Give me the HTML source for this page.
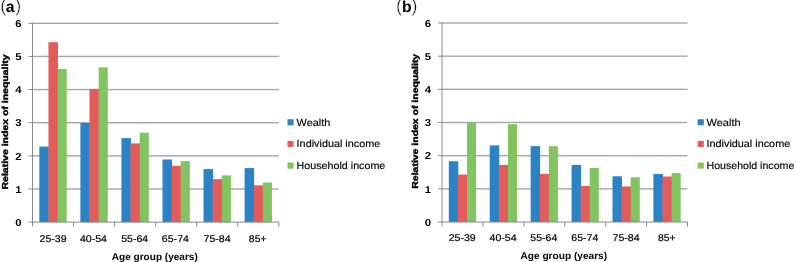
<!DOCTYPE html>
<html lang="en"><head><meta charset="utf-8"><title>Relative index of inequality by age group</title>
<style>
html,body{margin:0;padding:0;background:#fff;}
body{width:796px;height:262px;overflow:hidden;}
svg{display:block;font-family:"Liberation Sans", sans-serif;fill:#000;text-rendering:geometricPrecision;}
</style></head><body>
<svg width="796" height="262" viewBox="0 0 796 262">
<rect x="0" y="0" width="796" height="262" fill="#ffffff"/>
<g id="panel-a">
<rect x="32.50" y="188.27" width="246.30" height="1.4" fill="#a4a6aa"/>
<rect x="32.50" y="155.13" width="246.30" height="1.4" fill="#a4a6aa"/>
<rect x="32.50" y="122.00" width="246.30" height="1.4" fill="#a4a6aa"/>
<rect x="32.50" y="88.87" width="246.30" height="1.4" fill="#a4a6aa"/>
<rect x="32.50" y="55.73" width="246.30" height="1.4" fill="#a4a6aa"/>
<rect x="32.50" y="22.60" width="246.30" height="1.4" fill="#a4a6aa"/>
<rect x="39.34" y="146.56" width="9.52" height="75.54" fill="#2b83c6"/>
<rect x="48.46" y="42.19" width="9.52" height="179.91" fill="#e45b5b"/>
<rect x="57.59" y="69.02" width="9.12" height="153.08" fill="#82c45f"/>
<rect x="80.39" y="123.03" width="9.52" height="99.07" fill="#2b83c6"/>
<rect x="89.51" y="88.90" width="9.52" height="133.20" fill="#e45b5b"/>
<rect x="98.64" y="67.37" width="9.12" height="154.73" fill="#82c45f"/>
<rect x="121.44" y="138.11" width="9.52" height="83.99" fill="#2b83c6"/>
<rect x="130.56" y="143.41" width="9.52" height="78.69" fill="#e45b5b"/>
<rect x="139.69" y="132.64" width="9.12" height="89.46" fill="#82c45f"/>
<rect x="162.49" y="159.48" width="9.52" height="62.62" fill="#2b83c6"/>
<rect x="171.61" y="165.77" width="9.52" height="56.33" fill="#e45b5b"/>
<rect x="180.74" y="161.13" width="9.12" height="60.97" fill="#82c45f"/>
<rect x="203.54" y="169.09" width="9.52" height="53.01" fill="#2b83c6"/>
<rect x="212.66" y="179.19" width="9.52" height="42.91" fill="#e45b5b"/>
<rect x="221.79" y="175.38" width="9.12" height="46.72" fill="#82c45f"/>
<rect x="244.59" y="168.09" width="9.52" height="54.01" fill="#2b83c6"/>
<rect x="253.71" y="185.32" width="9.52" height="36.78" fill="#e45b5b"/>
<rect x="262.84" y="182.51" width="9.12" height="39.59" fill="#82c45f"/>
<rect x="32.00" y="22.80" width="1" height="203.50" fill="#868a90"/>
<rect x="28.50" y="221.60" width="250.30" height="1" fill="#868a90"/>
<rect x="28.50" y="188.47" width="4.0" height="1" fill="#868a90"/>
<rect x="28.50" y="155.33" width="4.0" height="1" fill="#868a90"/>
<rect x="28.50" y="122.20" width="4.0" height="1" fill="#868a90"/>
<rect x="28.50" y="89.07" width="4.0" height="1" fill="#868a90"/>
<rect x="28.50" y="55.93" width="4.0" height="1" fill="#868a90"/>
<rect x="28.50" y="22.80" width="4.0" height="1" fill="#868a90"/>
<rect x="73.05" y="222.10" width="1" height="4.7" fill="#868a90"/>
<rect x="114.10" y="222.10" width="1" height="4.7" fill="#868a90"/>
<rect x="155.15" y="222.10" width="1" height="4.7" fill="#868a90"/>
<rect x="196.20" y="222.10" width="1" height="4.7" fill="#868a90"/>
<rect x="237.25" y="222.10" width="1" height="4.7" fill="#868a90"/>
<rect x="278.30" y="222.10" width="1" height="4.7" fill="#868a90"/>
<text x="21.60" y="225.80" text-anchor="end" font-size="10.0" font-weight="bold" textLength="6.3" lengthAdjust="spacingAndGlyphs">0</text>
<text x="21.60" y="192.67" text-anchor="end" font-size="10.0" font-weight="bold" textLength="6.3" lengthAdjust="spacingAndGlyphs">1</text>
<text x="21.60" y="159.53" text-anchor="end" font-size="10.0" font-weight="bold" textLength="6.3" lengthAdjust="spacingAndGlyphs">2</text>
<text x="21.60" y="126.40" text-anchor="end" font-size="10.0" font-weight="bold" textLength="6.3" lengthAdjust="spacingAndGlyphs">3</text>
<text x="21.60" y="93.27" text-anchor="end" font-size="10.0" font-weight="bold" textLength="6.3" lengthAdjust="spacingAndGlyphs">4</text>
<text x="21.60" y="60.13" text-anchor="end" font-size="10.0" font-weight="bold" textLength="6.3" lengthAdjust="spacingAndGlyphs">5</text>
<text x="21.60" y="27.00" text-anchor="end" font-size="10.0" font-weight="bold" textLength="6.3" lengthAdjust="spacingAndGlyphs">6</text>
<text x="39.53" y="241.65" font-size="9.8" stroke="#000" stroke-width="0.2" textLength="27.0" lengthAdjust="spacingAndGlyphs">25-39</text>
<text x="79.98" y="241.65" font-size="9.8" stroke="#000" stroke-width="0.2" textLength="27.0" lengthAdjust="spacingAndGlyphs">40-54</text>
<text x="121.22" y="241.65" font-size="9.8" stroke="#000" stroke-width="0.2" textLength="27.0" lengthAdjust="spacingAndGlyphs">55-64</text>
<text x="161.88" y="241.65" font-size="9.8" stroke="#000" stroke-width="0.2" textLength="27.0" lengthAdjust="spacingAndGlyphs">65-74</text>
<text x="203.53" y="241.65" font-size="9.8" stroke="#000" stroke-width="0.2" textLength="27.0" lengthAdjust="spacingAndGlyphs">75-84</text>
<text x="248.88" y="241.65" font-size="9.8" stroke="#000" stroke-width="0.2" textLength="17.6" lengthAdjust="spacingAndGlyphs">85+</text>
<text x="111.80" y="259.70" font-size="9.9" font-weight="bold" textLength="86" lengthAdjust="spacingAndGlyphs">Age group (years)</text>
<text transform="translate(8.10,189.50) rotate(-90)" font-size="8.6" font-weight="bold" stroke="#000" stroke-width="0.4" textLength="135.2" lengthAdjust="spacingAndGlyphs">Relative index of inequality</text>
<rect x="287.50" y="119.25" width="6.1" height="6.1" fill="#2b83c6"/>
<text x="296.60" y="125.80" font-size="10.3" stroke="#000" stroke-width="0.15" textLength="33.8" lengthAdjust="spacingAndGlyphs">Wealth</text>
<rect x="287.50" y="140.90" width="6.1" height="6.1" fill="#e45b5b"/>
<text x="296.60" y="147.45" font-size="10.3" stroke="#000" stroke-width="0.15" textLength="83.7" lengthAdjust="spacingAndGlyphs">Individual income</text>
<rect x="287.50" y="162.55" width="6.1" height="6.1" fill="#82c45f"/>
<text x="296.60" y="169.10" font-size="10.3" stroke="#000" stroke-width="0.15" textLength="88.7" lengthAdjust="spacingAndGlyphs">Household income</text>
<text x="0.20" y="12.4" font-size="18.6" stroke="#fff" stroke-width="0.45">(</text>
<text x="5.70" y="12.1" font-size="15.8" font-weight="bold">a</text>
<text x="14.90" y="12.4" font-size="18.6" stroke="#fff" stroke-width="0.45">)</text>
</g>
<g id="panel-b">
<rect x="442.00" y="188.13" width="245.50" height="1.4" fill="#a4a6aa"/>
<rect x="442.00" y="154.97" width="245.50" height="1.4" fill="#a4a6aa"/>
<rect x="442.00" y="121.80" width="245.50" height="1.4" fill="#a4a6aa"/>
<rect x="442.00" y="88.63" width="245.50" height="1.4" fill="#a4a6aa"/>
<rect x="442.00" y="55.47" width="245.50" height="1.4" fill="#a4a6aa"/>
<rect x="442.00" y="22.30" width="245.50" height="1.4" fill="#a4a6aa"/>
<rect x="448.82" y="161.31" width="9.49" height="60.70" fill="#2b83c6"/>
<rect x="457.91" y="174.57" width="9.49" height="47.43" fill="#e45b5b"/>
<rect x="467.00" y="122.50" width="9.09" height="99.50" fill="#82c45f"/>
<rect x="489.74" y="145.38" width="9.49" height="76.61" fill="#2b83c6"/>
<rect x="498.83" y="164.95" width="9.49" height="57.05" fill="#e45b5b"/>
<rect x="507.92" y="124.16" width="9.09" height="97.84" fill="#82c45f"/>
<rect x="530.65" y="146.15" width="9.49" height="75.85" fill="#2b83c6"/>
<rect x="539.75" y="173.91" width="9.49" height="48.09" fill="#e45b5b"/>
<rect x="548.84" y="146.15" width="9.09" height="75.85" fill="#82c45f"/>
<rect x="571.57" y="164.95" width="9.49" height="57.05" fill="#2b83c6"/>
<rect x="580.66" y="186.01" width="9.49" height="35.99" fill="#e45b5b"/>
<rect x="589.75" y="167.94" width="9.09" height="54.06" fill="#82c45f"/>
<rect x="612.49" y="176.30" width="9.49" height="45.70" fill="#2b83c6"/>
<rect x="621.58" y="186.51" width="9.49" height="35.49" fill="#e45b5b"/>
<rect x="630.67" y="177.32" width="9.09" height="44.68" fill="#82c45f"/>
<rect x="653.40" y="174.01" width="9.49" height="47.99" fill="#2b83c6"/>
<rect x="662.50" y="176.56" width="9.49" height="45.44" fill="#e45b5b"/>
<rect x="671.59" y="173.01" width="9.09" height="48.99" fill="#82c45f"/>
<rect x="441.50" y="22.50" width="1" height="203.70" fill="#868a90"/>
<rect x="438.00" y="221.50" width="249.50" height="1" fill="#868a90"/>
<rect x="438.00" y="188.33" width="4.0" height="1" fill="#868a90"/>
<rect x="438.00" y="155.17" width="4.0" height="1" fill="#868a90"/>
<rect x="438.00" y="122.00" width="4.0" height="1" fill="#868a90"/>
<rect x="438.00" y="88.83" width="4.0" height="1" fill="#868a90"/>
<rect x="438.00" y="55.67" width="4.0" height="1" fill="#868a90"/>
<rect x="438.00" y="22.50" width="4.0" height="1" fill="#868a90"/>
<rect x="482.42" y="222.00" width="1" height="4.7" fill="#868a90"/>
<rect x="523.33" y="222.00" width="1" height="4.7" fill="#868a90"/>
<rect x="564.25" y="222.00" width="1" height="4.7" fill="#868a90"/>
<rect x="605.17" y="222.00" width="1" height="4.7" fill="#868a90"/>
<rect x="646.08" y="222.00" width="1" height="4.7" fill="#868a90"/>
<rect x="687.00" y="222.00" width="1" height="4.7" fill="#868a90"/>
<text x="431.00" y="225.70" text-anchor="end" font-size="10.0" font-weight="bold" textLength="6.3" lengthAdjust="spacingAndGlyphs">0</text>
<text x="431.00" y="192.53" text-anchor="end" font-size="10.0" font-weight="bold" textLength="6.3" lengthAdjust="spacingAndGlyphs">1</text>
<text x="431.00" y="159.37" text-anchor="end" font-size="10.0" font-weight="bold" textLength="6.3" lengthAdjust="spacingAndGlyphs">2</text>
<text x="431.00" y="126.20" text-anchor="end" font-size="10.0" font-weight="bold" textLength="6.3" lengthAdjust="spacingAndGlyphs">3</text>
<text x="431.00" y="93.03" text-anchor="end" font-size="10.0" font-weight="bold" textLength="6.3" lengthAdjust="spacingAndGlyphs">4</text>
<text x="431.00" y="59.87" text-anchor="end" font-size="10.0" font-weight="bold" textLength="6.3" lengthAdjust="spacingAndGlyphs">5</text>
<text x="431.00" y="26.70" text-anchor="end" font-size="10.0" font-weight="bold" textLength="6.3" lengthAdjust="spacingAndGlyphs">6</text>
<text x="448.76" y="241.25" font-size="9.8" stroke="#000" stroke-width="0.2" textLength="27.0" lengthAdjust="spacingAndGlyphs">25-39</text>
<text x="489.57" y="241.25" font-size="9.8" stroke="#000" stroke-width="0.2" textLength="27.0" lengthAdjust="spacingAndGlyphs">40-54</text>
<text x="530.29" y="241.25" font-size="9.8" stroke="#000" stroke-width="0.2" textLength="27.0" lengthAdjust="spacingAndGlyphs">55-64</text>
<text x="571.31" y="241.25" font-size="9.8" stroke="#000" stroke-width="0.2" textLength="27.0" lengthAdjust="spacingAndGlyphs">65-74</text>
<text x="612.62" y="241.25" font-size="9.8" stroke="#000" stroke-width="0.2" textLength="27.0" lengthAdjust="spacingAndGlyphs">75-84</text>
<text x="657.94" y="241.25" font-size="9.8" stroke="#000" stroke-width="0.2" textLength="17.6" lengthAdjust="spacingAndGlyphs">85+</text>
<text x="520.50" y="259.10" font-size="9.9" font-weight="bold" textLength="86.6" lengthAdjust="spacingAndGlyphs">Age group (years)</text>
<text transform="translate(418.00,188.70) rotate(-90)" font-size="8.6" font-weight="bold" stroke="#000" stroke-width="0.4" textLength="134.9" lengthAdjust="spacingAndGlyphs">Relative index of inequality</text>
<rect x="697.70" y="119.25" width="6.1" height="6.1" fill="#2b83c6"/>
<text x="706.50" y="125.80" font-size="10.3" stroke="#000" stroke-width="0.15" textLength="34.2" lengthAdjust="spacingAndGlyphs">Wealth</text>
<rect x="697.70" y="140.90" width="6.1" height="6.1" fill="#e45b5b"/>
<text x="706.50" y="147.45" font-size="10.3" stroke="#000" stroke-width="0.15" textLength="83.7" lengthAdjust="spacingAndGlyphs">Individual income</text>
<rect x="697.70" y="162.55" width="6.1" height="6.1" fill="#82c45f"/>
<text x="706.50" y="169.10" font-size="10.3" stroke="#000" stroke-width="0.15" textLength="87.8" lengthAdjust="spacingAndGlyphs">Household income</text>
<text x="396.10" y="12.4" font-size="18.6" stroke="#fff" stroke-width="0.45">(</text>
<text x="402.00" y="12.1" font-size="15.8" font-weight="bold">b</text>
<text x="411.20" y="12.4" font-size="18.6" stroke="#fff" stroke-width="0.45">)</text>
</g>
</svg>
</body></html>
